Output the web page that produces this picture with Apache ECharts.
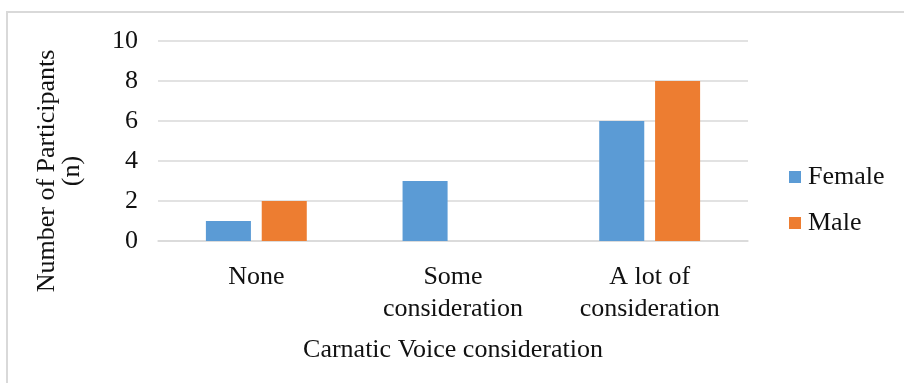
<!DOCTYPE html>
<html>
<head>
<meta charset="utf-8">
<script src="https://cdn.jsdelivr.net/npm/echarts@6/dist/echarts.min.js"></script>
<style>
  html, body { margin: 0; padding: 0; background: #fff; }
  #chart { width: 904px; height: 383px; }
</style>
</head>
<body>
<div id="chart"></div>
<script>
// Responses by level of Carnatic voice consideration
const categories = ['None', 'Some\nconsideration', 'A lot of\nconsideration'];
const female = [1, 3, 6];
const male = [2, 0, 8];
const yTicks = [0, 2, 4, 6, 8, 10];

const serif = '"Liberation Serif", "Times New Roman", serif';
const textColor = '#111111';
const chart = echarts.init(document.getElementById('chart'));

chart.setOption({
  animation: false,
  backgroundColor: '#ffffff',
  // frame: top and left edges only
  graphic: [
    {
      type: 'line',
      shape: { x1: 6, y1: 12, x2: 904, y2: 12 },
      style: { stroke: '#d9d9d9', lineWidth: 2 },
      silent: true
    },
    {
      type: 'line',
      shape: { x1: 7, y1: 11, x2: 7, y2: 383 },
      style: { stroke: '#d9d9d9', lineWidth: 2 },
      silent: true
    }
  ],
  grid: { left: 158, right: 156, top: 41, bottom: 142, containLabel: false, outerBoundsMode: 'none' },
  legend: {
    orient: 'vertical',
    left: 789,
    top: 164,
    padding: 0,
    itemWidth: 12,
    itemHeight: 12,
    itemGap: 20,
    icon: 'rect',
    textStyle: { fontFamily: serif, fontSize: 26, lineHeight: 26, color: textColor, padding: [0, 0, 0, 2] },
    data: ['Female', 'Male']
  },
  xAxis: {
    type: 'category',
    data: categories,
    name: 'Carnatic Voice consideration',
    nameLocation: 'middle',
    nameGap: 96,
    nameTextStyle: { fontFamily: serif, fontSize: 26, lineHeight: 26, color: textColor },
    axisLine: { show: true, lineStyle: { color: '#d9d9d9', width: 1.5 } },
    axisTick: { show: false },
    axisLabel: { fontFamily: serif, fontSize: 26, color: textColor, margin: 20, lineHeight: 32, interval: 0 }
  },
  yAxis: {
    type: 'value',
    min: 0,
    max: 10,
    interval: 2,
    name: 'Number of Participants\n(n)',
    nameLocation: 'middle',
    nameGap: 73,
    nameRotate: 90,
    nameTextStyle: { fontFamily: serif, fontSize: 26, color: textColor, lineHeight: 25, padding: [0, 60, 0, 0] },
    axisLine: { show: false },
    axisTick: { show: false },
    splitLine: { lineStyle: { color: '#d9d9d9', width: 1.5 } },
    axisLabel: {
      fontFamily: serif, fontSize: 26, color: textColor, margin: 20,
      formatter: v => yTicks.includes(v) ? String(v) : ''
    }
  },
  series: [
    {
      name: 'Female',
      type: 'bar',
      data: female,
      barWidth: '22.9%',
      barGap: '24%',
      itemStyle: { color: '#5b9bd5' }
    },
    {
      name: 'Male',
      type: 'bar',
      data: male,
      barWidth: '22.9%',
      barGap: '24%',
      itemStyle: { color: '#ed7d31' }
    }
  ]
});
</script>
</body>
</html>
